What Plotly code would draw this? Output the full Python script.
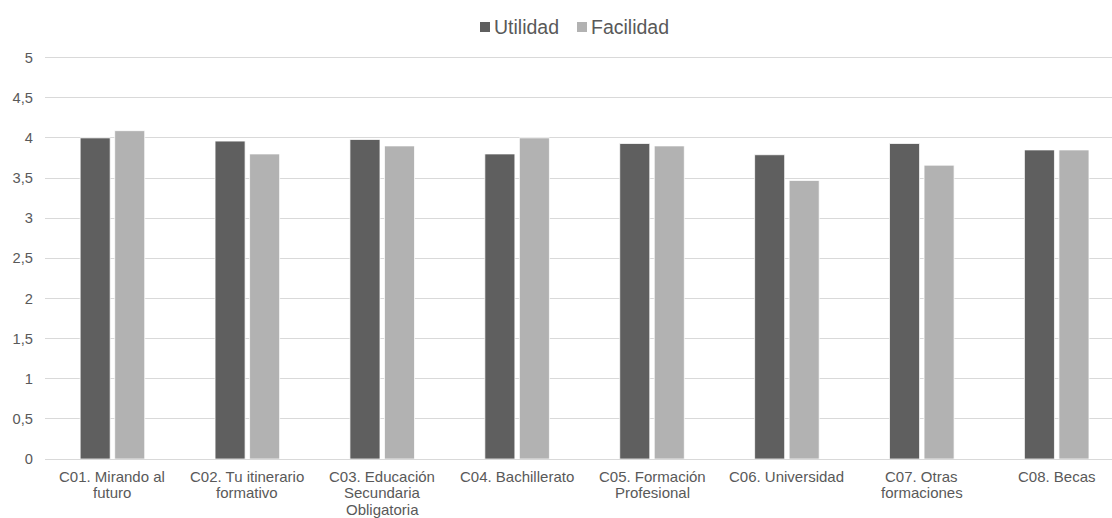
import plotly.graph_objects as go

# Categories and scores for each block of the course
categories = [
    "C01. Mirando al<br>futuro",
    "C02. Tu itinerario<br>formativo",
    "C03. Educación<br>Secundaria<br>Obligatoria",
    "C04. Bachillerato",
    "C05. Formación<br>Profesional",
    "C06. Universidad",
    "C07. Otras<br>formaciones",
    "C08. Becas",
]
series_names = ["Utilidad", "Facilidad"]
utilidad = [4.00, 3.96, 3.98, 3.80, 3.93, 3.79, 3.93, 3.85]
facilidad = [4.09, 3.80, 3.90, 4.00, 3.90, 3.47, 3.66, 3.85]
y_ticks = [0, 0.5, 1, 1.5, 2, 2.5, 3, 3.5, 4, 4.5, 5]

FONT = "Liberation Sans, Arial, sans-serif"
TEXT = "#595959"
GRID = "#d9d9d9"
COLORS = ["#5f5f5f", "#b2b2b2"]
TICK_SIZE = 14.7
CAT_SIZE = 15

W, H = 1112, 518
ML, MR, MT, MB = 45, 0, 56, 59
PW = W - ML - MR
PH = H - MT - MB
PLOT_BOTTOM = MT + PH

fig = go.Figure()
xs = list(range(len(categories)))
for name, vals, col in zip(series_names, [utilidad, facilidad], COLORS):
    fig.add_trace(go.Bar(
        name=name, x=xs, y=vals,
        marker=dict(color=col, line=dict(color="#ffffff", width=0.75)),
        showlegend=False,
    ))

# Legend drawn as small squares plus labels above the plot
legend_items = [(480, "Utilidad"), (577, "Facilidad")]
for (px, label), col in zip(legend_items, COLORS):
    x0 = (px - ML) / PW
    x1 = (px + 10 - ML) / PW
    y0 = 1 + (MT - 32) / PH
    y1 = 1 + (MT - 22) / PH
    fig.add_shape(type="rect", xref="paper", yref="paper",
                  x0=x0, x1=x1, y0=y0, y1=y1,
                  fillcolor=col, line=dict(width=0))
    fig.add_annotation(
        xref="paper", yref="paper", x=(px + 12 - ML) / PW, y=1 + (MT - 27) / PH,
        xanchor="left", yanchor="middle", showarrow=False, text=label,
        font=dict(family=FONT, size=19.5, color=TEXT),
    )

# Category labels, one annotation per line for a tighter line spacing
FIRST_LINE = 476.5   # pixel centre of the first label line
LINE_STEP = 16.4
for i, cat in enumerate(categories):
    for k, line in enumerate(cat.split("<br>")):
        py = FIRST_LINE + LINE_STEP * k
        fig.add_annotation(
            xref="x", yref="paper", x=i, y=(PLOT_BOTTOM - py) / PH,
            xanchor="center", yanchor="middle", showarrow=False, text=line,
            font=dict(family=FONT, size=CAT_SIZE, color=TEXT),
        )

fig.update_layout(
    width=W, height=H,
    margin=dict(l=ML, r=MR, t=MT, b=MB),
    paper_bgcolor="#ffffff", plot_bgcolor="#ffffff",
    barmode="group", bargap=0.488, bargroupgap=0.13,
    separators=",.",
    font=dict(family=FONT, size=TICK_SIZE, color=TEXT),
    showlegend=False,
)
fig.update_xaxes(
    tickmode="array", tickvals=xs,
    range=[-0.5, 7.41], showgrid=False, zeroline=False, showline=False,
    ticks="", showticklabels=False, automargin=False,
)
fig.update_yaxes(
    range=[0, 5.02], tickmode="array", tickvals=y_ticks,
    showgrid=True, gridcolor=GRID, gridwidth=1,
    zeroline=True, zerolinecolor=GRID, zerolinewidth=1,
    showline=False, ticks="", ticklabelstandoff=11, automargin=False,
    tickfont=dict(family=FONT, size=TICK_SIZE, color=TEXT),
)

fig.write_html("out.html")
